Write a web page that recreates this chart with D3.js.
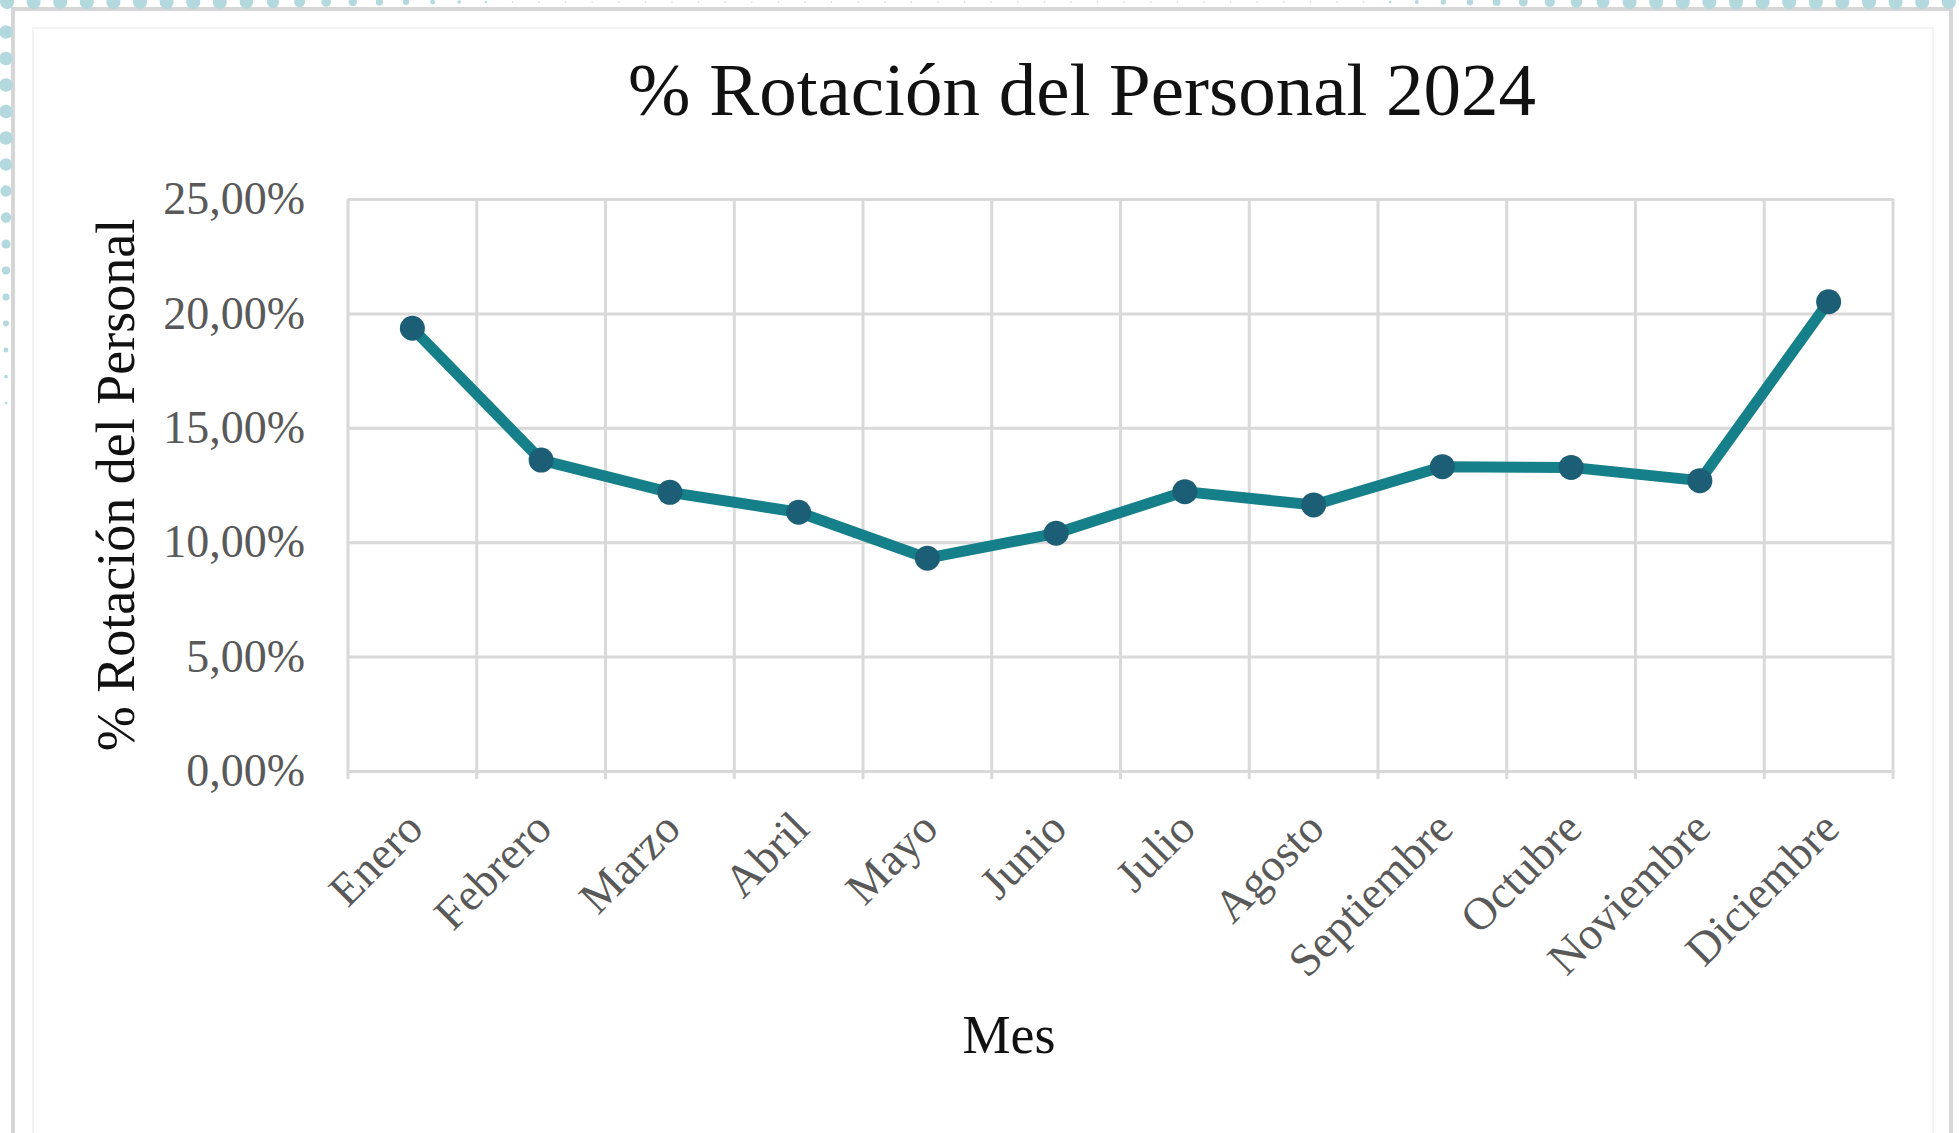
<!DOCTYPE html>
<html lang="es">
<head>
<meta charset="utf-8">
<title>% Rotación del Personal 2024</title>
<script src="https://cdn.jsdelivr.net/npm/d3@7"></script>
<style>
  html, body { margin: 0; padding: 0; background: #ffffff; }
  svg { display: block; }
  text { font-family: "Liberation Serif", "Times New Roman", serif; }
</style>
</head>
<body>
<svg id="chart" width="1959" height="1133"></svg>
<script>
// Monthly staff turnover, in percent
const categories = ["Enero", "Febrero", "Marzo", "Abril", "Mayo", "Junio",
  "Julio", "Agosto", "Septiembre", "Octubre", "Noviembre", "Diciembre"];
const rotacion = [19.35, 13.59, 12.18, 11.31, 9.30, 10.39,
  12.21, 11.63, 13.30, 13.27, 12.69, 20.51];
const yTicks = [0, 5, 10, 15, 20, 25];

const chartTitle = "% Rotación del Personal 2024";
const yTitle = "% Rotación del Personal";
const xTitle = "Mes";

const W = 1959, H = 1133;
const plot = { left: 348, right: 1893, top: 199, bottom: 771 };

const svg = d3.select("#chart");

// Spanish number formatting: comma decimal separator
const es = d3.formatLocale({ decimal: ",", thousands: ".", grouping: [3], currency: ["", " €"] });
const fmtPct = v => es.format(".2f")(v) + "%";

// ---- decorative frame ----
const deco = svg.append("g").attr("class", "frame");
deco.append("rect")
  .attr("x", 13).attr("y", 9)
  .attr("width", 1938).attr("height", H + 20)
  .attr("fill", "#ffffff")
  .attr("stroke", "#d6d6d6").attr("stroke-width", 4);
deco.append("rect")
  .attr("x", 33).attr("y", 28)
  .attr("width", 1900).attr("height", H + 20)
  .attr("fill", "none")
  .attr("stroke", "#f3f3f3").attr("stroke-width", 2);

// dotted edge: fading rows of circles along the top and down the left side
const dotColor = "#b3d8de";
const topDots = [];
for (let cx = 7; cx < 1950; cx += 26.6) {
  let r;
  if (cx < 230) r = 7;
  else if (cx < 500) r = Math.max(0.9, 7 - (cx - 230) / 270 * 6.1);
  else if (cx < 1370) r = 0.7;
  else if (cx < 1630) r = Math.min(7, 0.9 + (cx - 1370) / 260 * 6.1);
  else r = 7;
  topDots.push({ cx, cy: 2, r });
}
const leftDots = [];
for (let i = 0; i < 15; i++) {
  const cy = 32 + i * 26.5;
  const r = Math.max(1, 6.8 - Math.max(0, i - 4) * 0.55);
  leftDots.push({ cx: 6, cy, r });
}
deco.selectAll("circle.dot")
  .data(topDots.concat(leftDots))
  .join("circle")
  .attr("class", "dot")
  .attr("cx", d => d.cx).attr("cy", d => d.cy).attr("r", d => d.r)
  .attr("fill", dotColor);

// ---- scales ----
const x = d3.scaleBand()
  .domain(categories)
  .range([plot.left, plot.right])
  .paddingInner(0).paddingOuter(0);

const y = d3.scaleLinear()
  .domain([0, 25])
  .range([plot.bottom, plot.top]);

const gridColor = "#d9d9d9";

// horizontal gridlines
svg.append("g")
  .attr("transform", `translate(${plot.left},0)`)
  .call(d3.axisLeft(y).tickValues(yTicks).tickSize(-(plot.right - plot.left)).tickFormat(""))
  .call(g => g.select(".domain").remove())
  .call(g => g.selectAll(".tick line").attr("stroke", gridColor).attr("stroke-width", 3));

// vertical gridlines between months, with short ticks under the axis
const boundaries = categories.map(c => x(c)).concat([plot.right]);
svg.append("g").selectAll("line")
  .data(boundaries)
  .join("line")
  .attr("x1", d => d).attr("x2", d => d)
  .attr("y1", plot.top).attr("y2", plot.bottom + 8)
  .attr("stroke", gridColor).attr("stroke-width", 3);

// y tick labels
svg.append("g")
  .attr("transform", `translate(${plot.left},0)`)
  .call(d3.axisLeft(y).tickValues(yTicks).tickSize(0).tickPadding(43).tickFormat(fmtPct))
  .call(g => g.select(".domain").remove())
  .call(g => g.selectAll("text")
    .attr("fill", "#595959")
    .style("font-size", "46px")
    .style("font-family", "'Liberation Serif', 'Times New Roman', serif"));

// x tick labels, rotated
svg.append("g")
  .attr("transform", `translate(0,${plot.bottom})`)
  .call(d3.axisBottom(x).tickSize(0).tickPadding(0))
  .call(g => g.select(".domain").remove())
  .call(g => g.selectAll("text")
    .attr("x", 0).attr("y", 0).attr("dy", 0)
    .attr("text-anchor", "end")
    .attr("transform", "translate(13,60) rotate(-45)")
    .attr("fill", "#595959")
    .style("font-size", "46px")
    .style("font-family", "'Liberation Serif', 'Times New Roman', serif"));

// ---- series ----
const line = d3.line()
  .x((d, i) => x(categories[i]) + x.bandwidth() / 2)
  .y(d => y(d));

svg.append("path")
  .datum(rotacion)
  .attr("d", line)
  .attr("fill", "none")
  .attr("stroke", "#16808a")
  .attr("stroke-width", 11)
  .attr("stroke-linejoin", "round")
  .attr("stroke-linecap", "round");

svg.append("g").selectAll("circle")
  .data(rotacion)
  .join("circle")
  .attr("cx", (d, i) => x(categories[i]) + x.bandwidth() / 2)
  .attr("cy", d => y(d))
  .attr("r", 12.5)
  .attr("fill", "#1d5e77");

// ---- titles ----
svg.append("text")
  .attr("x", 1082).attr("y", 115)
  .attr("text-anchor", "middle")
  .attr("fill", "#111111")
  .style("font-size", "75px")
  .text(chartTitle);

svg.append("text")
  .attr("transform", `translate(134,${(plot.top + plot.bottom) / 2}) rotate(-90)`)
  .attr("text-anchor", "middle")
  .attr("fill", "#111111")
  .style("font-size", "54px")
  .text(yTitle);

svg.append("text")
  .attr("x", 1009).attr("y", 1053)
  .attr("text-anchor", "middle")
  .attr("fill", "#111111")
  .style("font-size", "54px")
  .text(xTitle);
</script>
</body>
</html>
